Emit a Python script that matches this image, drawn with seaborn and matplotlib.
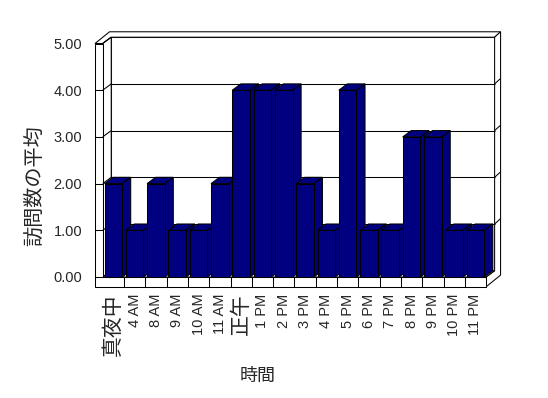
import matplotlib
matplotlib.use("Agg")
import matplotlib.pyplot as plt
from matplotlib.patches import Polygon
import seaborn as sns

# average visits per hour slot
hours = ["真夜中", "4 AM", "8 AM", "9 AM", "10 AM", "11 AM", "正午", "1 PM", "2 PM",
         "3 PM", "4 PM", "5 PM", "6 PM", "7 PM", "8 PM", "9 PM", "10 PM", "11 PM"]
visits = [2, 1, 2, 1, 1, 2, 4, 4, 4, 2, 1, 4, 1, 1, 3, 3, 1, 1]
yticks = [0, 1, 2, 3, 4, 5]

sns.set_style("white")
plt.rcParams["font.family"] = ["Liberation Sans", "Noto Sans CJK JP", "DejaVu Sans"]

NAVY = "#000080"
LW = 0.75
# fake 3D depth (data units)
DX, DY = 0.40, 0.135      # front -> inner back wall
TX, TY = 0.28, 0.116      # back wall thickness
WALL = 0.36               # left wall thickness
FLOOR = 0.21              # floor thickness
TOP = yticks[-1]

fig = plt.figure(figsize=(5.48, 3.98), dpi=100)
ax = fig.add_axes([88 / 548, (398 - 292) / 398, 420 / 548, 264 / 398])

sns.barplot(x=hours, y=visits, color=NAVY, saturation=1, width=0.83,
            edgecolor="black", linewidth=LW, errorbar=None, ax=ax)

n = len(hours)
left, right = -0.5, n - 0.5


def face(pts, z, fc="white"):
    ax.add_patch(Polygon(pts, closed=True, fc=fc, ec="black", lw=LW, zorder=z,
                         joinstyle="miter"))


def line(xs, ys, z):
    ax.plot(xs, ys, color="black", lw=LW, zorder=z, solid_capstyle="butt")


# back wall, top, right side
face([(left + DX, DY), (right + DX, DY), (right + DX, TOP + DY), (left + DX, TOP + DY)], 1)
face([(left - WALL, TOP), (left, TOP), (left + DX, TOP + DY), (right + DX, TOP + DY),
      (right + DX + TX, TOP + DY + TY), (left - WALL + DX + TX, TOP + DY + TY)], 1)
face([(right, 0), (right + DX, DY), (right + DX, TOP + DY), (right + DX + TX, TOP + DY + TY),
      (right + DX + TX, -FLOOR + DY + TY), (right, -FLOOR)], 1)
# left wall inner face, floor top
face([(left, 0), (left, TOP), (left + DX, TOP + DY), (left + DX, DY)], 1)
face([(left, 0), (right, 0), (right + DX, DY), (left + DX, DY)], 1)
# front L-shaped face
face([(left - WALL, -FLOOR), (right, -FLOOR), (right, 0), (left, 0), (left, TOP),
      (left - WALL, TOP)], 1)

for v in yticks[1:-1]:
    line([left + DX, right + DX], [v + DY, v + DY], 2)
    line([right + DX, right + DX + TX], [v + DY, v + DY + TY], 2)
for v in yticks[1:]:
    line([left, left + DX], [v, v + DY], 2)
for v in yticks[:-1]:
    line([left - WALL, left], [v, v], 2)
for k in range(n - 1):
    line([k + 0.5, k + 0.5], [-FLOOR, 0], 2)

# extrude bars
for i, p in enumerate(ax.patches[:n]):
    x0 = p.get_x()
    x1 = x0 + p.get_width()
    h = p.get_height()
    p.set_zorder(11 + 2 * i)
    face([(x0, h), (x1, h), (x1 + DX, h + DY), (x0 + DX, h + DY)], 10 + 2 * i, NAVY)
    face([(x1, 0), (x1, h), (x1 + DX, h + DY), (x1 + DX, DY)], 10 + 2 * i, NAVY)

ax.set_xlim((88 - 113.35) / 21.3, (508 - 113.35) / 21.3)
ax.set_ylim((277 - 292) / 46.7, (277 - 28) / 46.7)
for s in ax.spines.values():
    s.set_visible(False)

ax.set_yticks(yticks)
ax.set_yticklabels([f"{v:.2f}" for v in yticks], fontsize=10.5)
ax.set_xticks(range(n))
ax.set_xticklabels(hours, rotation=90, fontsize=10.5)
for lbl in ax.get_xticklabels():
    if not lbl.get_text().isascii():
        lbl.set_fontsize(15)
ax.tick_params(axis="y", length=0, pad=4.3)
ax.tick_params(axis="x", length=0, pad=1)

ax.set_ylabel("訪問数の平均", fontsize=14.5)
ax.yaxis.set_label_coords((35 - 88) / 420, (292 - 186) / 264)
ax.yaxis.label.set(va="center", ha="center")
ax.set_xlabel("時間", fontsize=13)
ax.xaxis.set_label_coords((258 - 88) / 420, (292 - 376) / 264)
ax.xaxis.label.set(va="center", ha="center")

fig.savefig("out.png", dpi=100, facecolor="white")
